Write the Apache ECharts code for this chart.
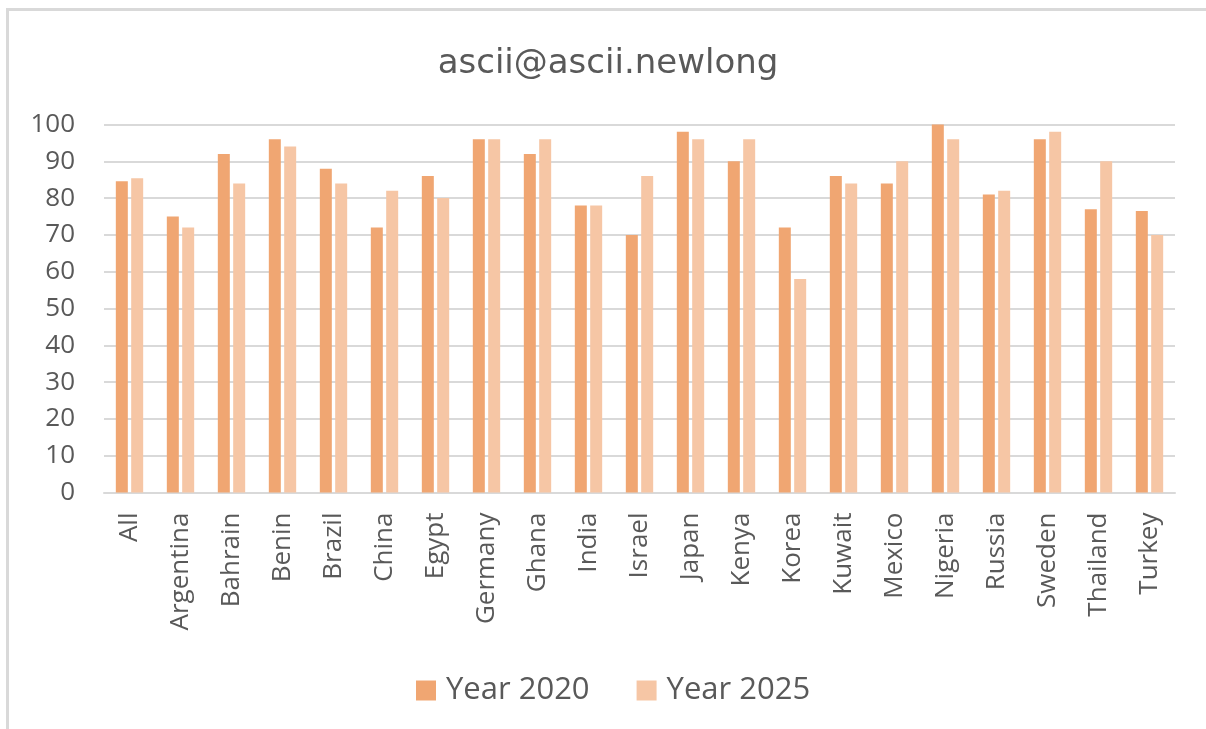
<!DOCTYPE html>
<html>
<head>
<meta charset="utf-8">
<title>ascii@ascii.newlong</title>
<script src="https://cdn.jsdelivr.net/npm/echarts@6/dist/echarts.min.js"></script>
<style>
  html, body { margin: 0; padding: 0; background: #ffffff; }
  #chart { width: 1206px; height: 729px; }
</style>
</head>
<body>
<div id="chart"></div>
<script>
// Countries on the horizontal axis
const categories = ['All', 'Argentina', 'Bahrain', 'Benin', 'Brazil', 'China', 'Egypt',
  'Germany', 'Ghana', 'India', 'Israel', 'Japan', 'Kenya', 'Korea', 'Kuwait',
  'Mexico', 'Nigeria', 'Russia', 'Sweden', 'Thailand', 'Turkey'];

// Values per country
const year2020 = [84.6, 75, 92, 96, 88, 72, 86, 96, 92, 78, 70, 98, 90, 72, 86, 84, 100, 81, 96, 77, 76.5];
const year2025 = [85.4, 72, 84, 94, 84, 82, 80, 96, 96, 78, 86, 96, 96, 58, 84, 90, 96, 82, 98, 90, 70];

const seriesNames = ['Year 2020', 'Year 2025'];
const chartTitle = 'ascii@ascii.newlong';

const textGray = '#595959';
const gridGray = '#d9d9d9';
const font = '"Open Sans", "Noto Sans", sans-serif';

const chart = echarts.init(document.getElementById('chart'), null, { renderer: 'canvas' });

chart.setOption({
  animation: false,
  backgroundColor: '#ffffff',
  graphic: [
    // frame lines along the top and left edges
    { type: 'line', shape: { x1: 7, y1: 9.5, x2: 1206, y2: 9.5 },
      style: { stroke: gridGray, lineWidth: 3 }, silent: true },
    { type: 'line', shape: { x1: 7.5, y1: 8, x2: 7.5, y2: 729 },
      style: { stroke: gridGray, lineWidth: 3 }, silent: true },
    { type: 'text', x: 608, y: 64,
      style: { text: chartTitle, fill: textGray, font: '34px "DejaVu Sans", sans-serif',
               textAlign: 'center', textVerticalAlign: 'middle' } }
  ],
  grid: { left: 104, right: 31, top: 124.5, bottom: 236.5, containLabel: false },
  legend: {
    data: seriesNames,
    left: 416,
    top: 675,
    padding: 0,
    icon: 'rect',
    itemWidth: 20,
    itemHeight: 20,
    itemGap: 47,
    textStyle: { color: textGray, fontSize: 31, fontFamily: font, padding: [0, 0, 0, 5] }
  },
  xAxis: {
    type: 'category',
    data: categories,
    axisLine: { lineStyle: { color: gridGray, width: 2 } },
    axisTick: { show: false },
    axisLabel: { rotate: 90, margin: 20, interval: 0, color: textGray, fontSize: 26, fontFamily: font }
  },
  yAxis: {
    type: 'value',
    min: 0,
    max: 100,
    interval: 10,
    axisLine: { show: false },
    axisTick: { show: false },
    axisLabel: { margin: 29, color: textGray, fontSize: 26, fontFamily: font },
    splitLine: { lineStyle: { color: gridGray, width: 2 } }
  },
  series: [
    { name: seriesNames[0], type: 'bar', data: year2020, barWidth: 12, barGap: '28%',
      itemStyle: { color: '#f0a672' } },
    { name: seriesNames[1], type: 'bar', data: year2025, barWidth: 12,
      itemStyle: { color: '#f6c6a5' } }
  ]
});
</script>
</body>
</html>
